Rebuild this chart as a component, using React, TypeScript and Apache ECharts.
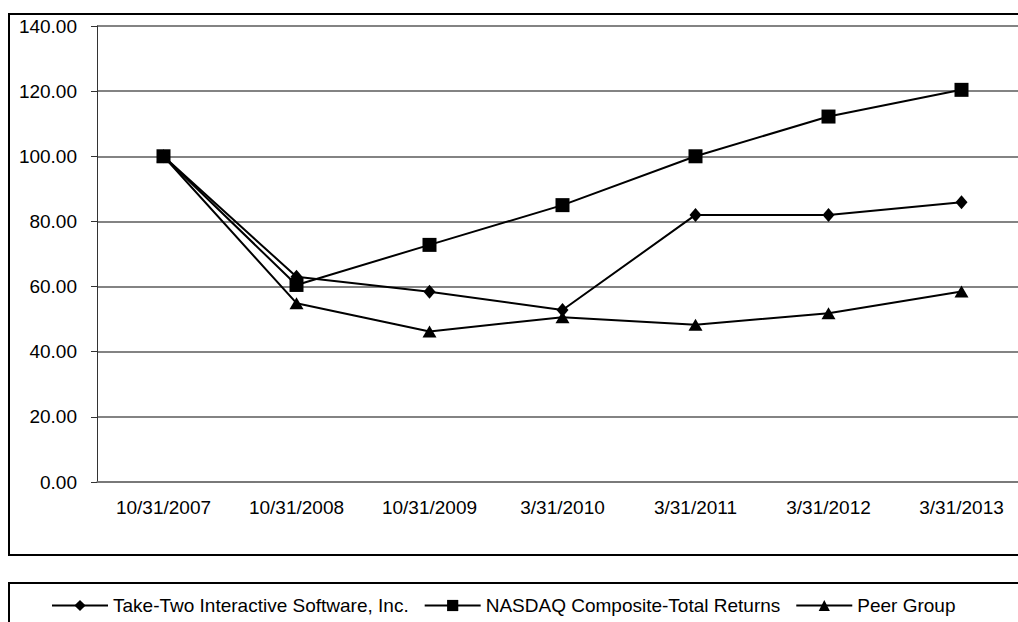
import React, { useEffect, useRef } from "react";
import * as echarts from "echarts";

const categories = ["10/31/2007", "10/31/2008", "10/31/2009", "3/31/2010", "3/31/2011", "3/31/2012", "3/31/2013"];
const takeTwo = [100, 63.0, 58.4, 52.8, 82.0, 82.0, 85.9];
const nasdaq = [100, 60.5, 72.8, 85.0, 100.0, 112.2, 120.4];
const peerGroup = [100, 54.9, 46.2, 50.6, 48.3, 51.8, 58.5];
const yTicks = { min: 0, max: 140, step: 20 };
const seriesNames = ["Take-Two Interactive Software, Inc.", "NASDAQ Composite-Total Returns", "Peer Group"];

const FONT = "'Liberation Sans', Arial, Helvetica, sans-serif";

export default function App() {
  const ref = useRef<HTMLDivElement>(null);
  useEffect(() => {
    if (!ref.current) return;
    const chart = echarts.init(ref.current, undefined, { renderer: "svg" });
    const mk = (name: string, data: number[], symbol: string, size: any) => ({
      name,
      type: "line",
      data,
      symbol,
      symbolSize: size,
      showSymbol: true,
      lineStyle: { color: "#000", width: 2 },
      itemStyle: { color: "#000" },
      z: 3,
    });
    chart.setOption({
      animation: false,
      backgroundColor: "#fff",
      textStyle: { fontFamily: FONT },
      grid: { left: 97, top: 26, width: 931, height: 456, containLabel: false },
      legend: {
        left: 51,
        top: 596,
        padding: 0,
        itemWidth: 56,
        itemHeight: 14,
        itemGap: 15,
        textStyle: { fontFamily: FONT, fontSize: 19, color: "#000" },
        data: seriesNames,
      },
      xAxis: {
        type: "category",
        data: categories,
        boundaryGap: true,
        axisLine: { lineStyle: { color: "#777", width: 1.5 } },
        axisTick: { alignWithLabel: true, inside: true, length: 6, lineStyle: { color: "#444" } },
        axisLabel: { color: "#000", fontSize: 19, fontFamily: FONT, margin: 16 },
        splitLine: { show: false },
      },
      yAxis: {
        type: "value",
        min: yTicks.min,
        max: yTicks.max,
        interval: yTicks.step,
        axisLine: { show: true, lineStyle: { color: "#333", width: 1 } },
        axisTick: { show: true, length: 6, lineStyle: { color: "#333" } },
        axisLabel: { color: "#000", fontSize: 19, fontFamily: FONT, margin: 20, formatter: (v: number) => v.toFixed(2) },
        splitLine: { lineStyle: { color: "#5a5a5a", width: 1.5 } },
      },
      graphic: [
        { type: "rect", shape: { x: 9, y: 14, width: 1040, height: 541 }, style: { fill: "none", stroke: "#000", lineWidth: 2 }, z: -1 },
        { type: "rect", shape: { x: 9, y: 583, width: 1040, height: 60 }, style: { fill: "none", stroke: "#000", lineWidth: 2 }, z: -1 },
      ],
      series: [
        mk(seriesNames[0], takeTwo, "diamond", [12, 14]),
        mk(seriesNames[1], nasdaq, "rect", 14),
        mk(seriesNames[2], peerGroup, "triangle", [14, 12]),
      ],
    });
    return () => chart.dispose();
  }, []);
  return (
    <div style={{ position: "fixed", left: 0, top: 0, width: 1018, height: 622, overflow: "hidden" }}>
      <div ref={ref} style={{ position: "absolute", left: 0, top: 0, width: 1050, height: 650 }} />
    </div>
  );
}
